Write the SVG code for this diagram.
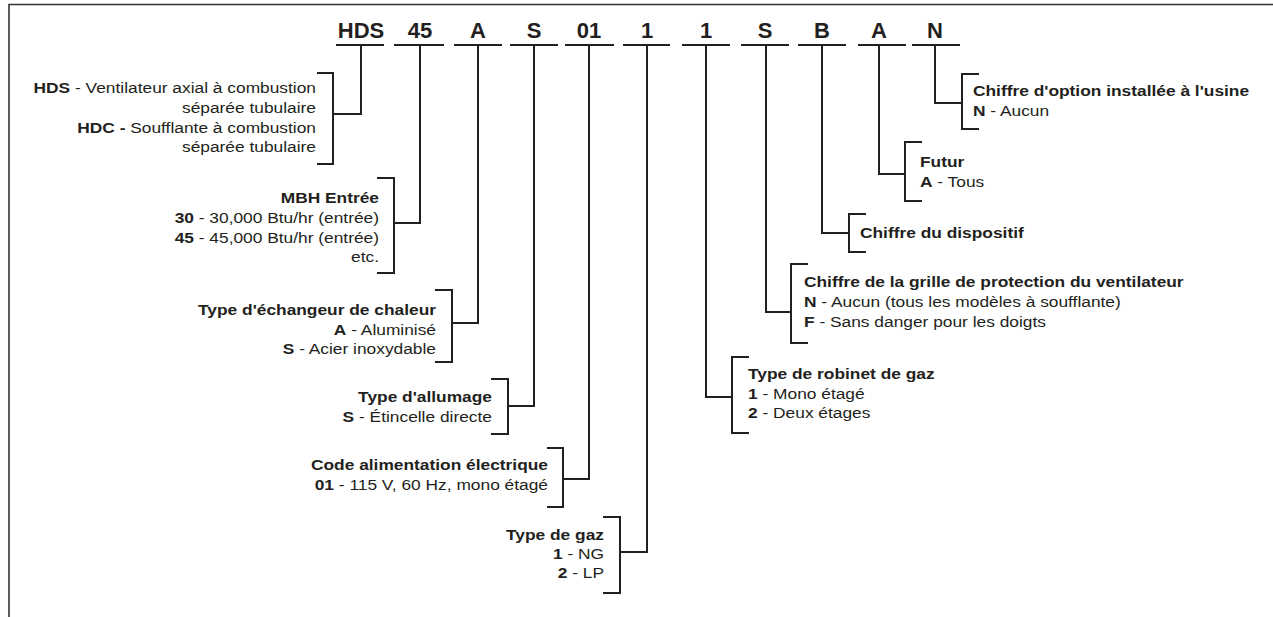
<svg xmlns="http://www.w3.org/2000/svg" width="1273" height="617" viewBox="0 0 1273 617">
<style>
.t{font-family:"Liberation Sans",Arial,Helvetica,sans-serif;font-size:15.5px;fill:#231f20}
.b{font-weight:bold}
.code{font-family:"Liberation Sans",Arial,Helvetica,sans-serif;font-size:22px;font-weight:bold;fill:#231f20;text-anchor:middle}
.ln{stroke:#231f20;stroke-width:2;fill:none;stroke-linejoin:miter}
.e{text-anchor:end}
</style>
<rect width="1273" height="617" fill="#fff"/>
<path d="M9 617 V4.5 H1273" fill="none" stroke="#333" stroke-width="1.6"/>

<g id="code">
<text class="code" x="361" y="37.5">HDS</text>
<text class="code" x="420" y="37.5">45</text>
<text class="code" x="478" y="37.5">A</text>
<text class="code" x="534" y="37.5">S</text>
<text class="code" x="589" y="37.5">01</text>
<text class="code" x="647" y="37.5">1</text>
<text class="code" x="706" y="37.5">1</text>
<text class="code" x="765" y="37.5">S</text>
<text class="code" x="822" y="37.5">B</text>
<text class="code" x="879" y="37.5">A</text>
<text class="code" x="935" y="37.5">N</text>
<path class="ln" d="M336 45H384M394 45H444M454 45H502M510 45H558M565 45H614M623 45H670M682 45H730M741 45H789M798 45H846M858 45H906M912 45H960"/>
</g>

<g id="connectors">
<path class="ln" d="M361 45V114H333"/>
<path class="ln" d="M420 45V223H394"/>
<path class="ln" d="M478 45V323H452"/>
<path class="ln" d="M534 45V406H508"/>
<path class="ln" d="M589 45V479H563"/>
<path class="ln" d="M647 45V552H620"/>
<path class="ln" d="M706 45V397H732"/>
<path class="ln" d="M766 45V312H791"/>
<path class="ln" d="M822 45V233H849"/>
<path class="ln" d="M879 45V174H905"/>
<path class="ln" d="M935 45V103H962"/>
</g>

<g id="node-hds">
<path class="ln" d="M317 73H333V164H317"/>
<text class="t e" transform="translate(316,93) scale(1.12,1)"><tspan x="0" y="0"><tspan class="b">HDS</tspan> - Ventilateur axial à combustion</tspan><tspan x="0" y="20">séparée tubulaire</tspan><tspan x="0" y="40"><tspan class="b">HDC -</tspan> Soufflante à combustion</tspan><tspan x="0" y="59.5">séparée tubulaire</tspan></text>
</g>

<g id="node-mbh">
<path class="ln" d="M377 178H394V273H377"/>
<text class="t e" transform="translate(379,203) scale(1.12,1)"><tspan x="0" y="0" class="b">MBH Entrée</tspan><tspan x="0" y="20"><tspan class="b">30</tspan> - 30,000 Btu/hr (entrée)</tspan><tspan x="0" y="40"><tspan class="b">45</tspan> - 45,000 Btu/hr (entrée)</tspan><tspan x="0" y="59">etc.</tspan></text>
</g>

<g id="node-echangeur">
<path class="ln" d="M435 290H452V362H435"/>
<text class="t e" transform="translate(436,315) scale(1.12,1)"><tspan x="0" y="0" class="b">Type d'échangeur de chaleur</tspan><tspan x="0" y="20"><tspan class="b">A</tspan> - Aluminisé</tspan><tspan x="0" y="39"><tspan class="b">S</tspan> - Acier inoxydable</tspan></text>
</g>

<g id="node-allumage">
<path class="ln" d="M491 379H508V434H491"/>
<text class="t e" transform="translate(492,402) scale(1.12,1)"><tspan x="0" y="0" class="b">Type d'allumage</tspan><tspan x="0" y="20"><tspan class="b">S</tspan> - Étincelle directe</tspan></text>
</g>

<g id="node-alimentation">
<path class="ln" d="M547 448H563V507H547"/>
<text class="t e" transform="translate(548,470) scale(1.12,1)"><tspan x="0" y="0" class="b">Code alimentation électrique</tspan><tspan x="0" y="20"><tspan class="b">01</tspan> - 115 V, 60 Hz, mono étagé</tspan></text>
</g>

<g id="node-gaz">
<path class="ln" d="M603 517H620V593H603"/>
<text class="t e" transform="translate(604,540) scale(1.12,1)"><tspan x="0" y="0" class="b">Type de gaz</tspan><tspan x="0" y="19"><tspan class="b">1</tspan> - NG</tspan><tspan x="0" y="38"><tspan class="b">2</tspan> - LP</tspan></text>
</g>

<g id="node-robinet">
<path class="ln" d="M749 357H732V433H749"/>
<text class="t" transform="translate(748,379) scale(1.12,1)"><tspan x="0" y="0" class="b">Type de robinet de gaz</tspan><tspan x="0" y="20"><tspan class="b">1</tspan> - Mono étagé</tspan><tspan x="0" y="39"><tspan class="b">2</tspan> - Deux étages</tspan></text>
</g>

<g id="node-grille">
<path class="ln" d="M808 264H791V343H808"/>
<text class="t" transform="translate(804,287) scale(1.12,1)"><tspan x="0" y="0" class="b">Chiffre de la grille de protection du ventilateur</tspan><tspan x="0" y="20"><tspan class="b">N</tspan> - Aucun (tous les modèles à soufflante)</tspan><tspan x="0" y="40"><tspan class="b">F</tspan> - Sans danger pour les doigts</tspan></text>
</g>

<g id="node-dispositif">
<path class="ln" d="M866 214H849V252H866"/>
<text class="t" transform="translate(860,238) scale(1.12,1)"><tspan x="0" y="0" class="b">Chiffre du dispositif</tspan></text>
</g>

<g id="node-futur">
<path class="ln" d="M922 142H905V201H922"/>
<text class="t" transform="translate(920,167) scale(1.12,1)"><tspan x="0" y="0" class="b">Futur</tspan><tspan x="0" y="20"><tspan class="b">A</tspan> - Tous</tspan></text>
</g>

<g id="node-option">
<path class="ln" d="M979 74H962V129H979"/>
<text class="t" transform="translate(973,96) scale(1.12,1)"><tspan x="0" y="0" class="b">Chiffre d'option installée à l'usine</tspan><tspan x="0" y="20"><tspan class="b">N</tspan> - Aucun</tspan></text>
</g>
</svg>
